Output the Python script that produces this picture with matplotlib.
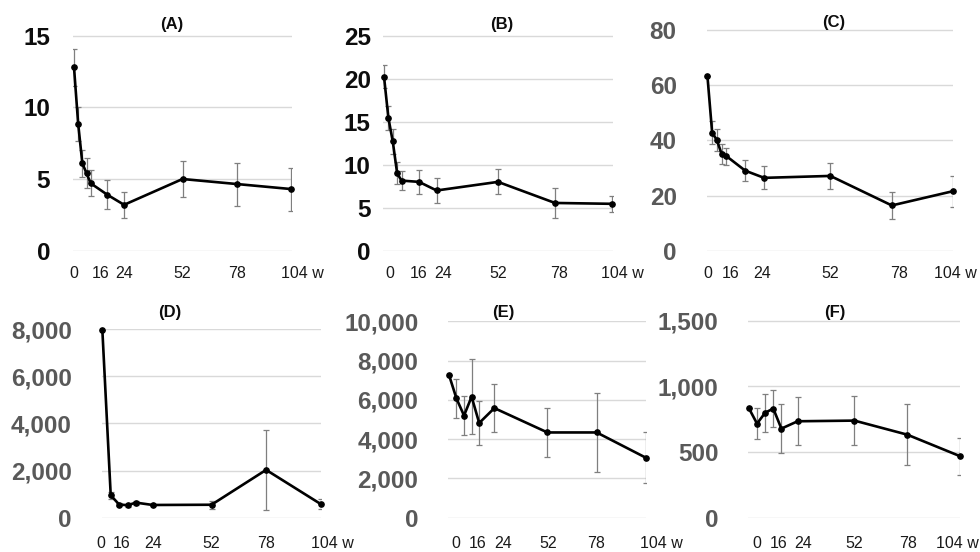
import matplotlib
matplotlib.use("Agg")
import matplotlib.pyplot as plt
from matplotlib.ticker import FuncFormatter
import matplotlib.transforms as mtransforms

plt.rcParams['font.family'] = ['Liberation Sans', 'DejaVu Sans']

# ---------------- data ----------------
weeks_abc = [0, 2, 4, 6, 8, 16, 24, 52, 78, 104]
weeks_def = [0, 4, 8, 12, 16, 24, 52, 78, 104]

a_mean = [12.8, 8.85, 6.1, 5.4, 4.7, 3.9, 3.2, 5.0, 4.65, 4.3]
a_err = [1.3, 1.2, 0.95, 1.05, 0.9, 1.0, 0.9, 1.25, 1.5, 1.5]

b_mean = [20.25, 15.45, 12.7, 9.0, 8.15, 8.0, 7.0, 8.0, 5.55, 5.45]
b_err = [1.3, 1.4, 1.5, 1.3, 1.1, 1.4, 1.5, 1.45, 1.7, 0.95]

c_mean = [63.4, 42.8, 40.1, 35.1, 34.3, 29.0, 26.4, 27.1, 16.4, 21.6]
c_err = [0, 4.2, 4.0, 3.7, 3.1, 3.8, 4.2, 4.8, 5.0, 5.6]

d_mean = [7986, 950, 560, 530, 640, 540, 550, 2030, 580]
d_err = [0, 140, 60, 60, 80, 60, 175, 1710, 200]

e_mean = [7290, 6070, 5200, 6160, 4820, 5580, 4340, 4340, 3050]
e_err = [0, 990, 990, 1900, 1140, 1235, 1250, 1990, 1290]

f_mean = [834, 717, 800, 832, 679, 735, 740, 633, 469]
f_err = [0, 117, 146, 140, 189, 182, 187, 234, 140]

tick_weeks = [0, 16, 24, 52, 78, 104]
tick_labels = ['0', '16', '24', '52', '78', '104 w']

panels = [
    dict(title='(A)', x=weeks_abc, y=a_mean, e=a_err, yticks=[0, 5, 10, 15]),
    dict(title='(B)', x=weeks_abc, y=b_mean, e=b_err, yticks=[0, 5, 10, 15, 20, 25]),
    dict(title='(C)', x=weeks_abc, y=c_mean, e=c_err, yticks=[0, 20, 40, 60, 80]),
    dict(title='(D)', x=weeks_def, y=d_mean, e=d_err, yticks=[0, 2000, 4000, 6000, 8000]),
    dict(title='(E)', x=weeks_def, y=e_mean, e=e_err, yticks=[0, 2000, 4000, 6000, 8000, 10000]),
    dict(title='(F)', x=weeks_def, y=f_mean, e=f_err, yticks=[0, 500, 1000, 1500]),
]

# ---------------- layout (pixels) ----------------
W, H = 980, 552
layout = [
    # left, right, top, bottom, xlim, ytick pad(px), ytick color, xlab pad(px), title x, title y
    (72.7, 291.7, 35.0, 250.7, (-0.62, 104.3), 22.7, '#0d0d0d', 15, 172, 24),
    (382.7, 613.3, 35.0, 250.7, (-0.59, 104.6), 12.0, '#0d0d0d', 15, 502, 24),
    (706.7, 953.3, 29.3, 250.7, (-0.3, 104.0), 30.0, '#595959', 15, 834, 23),
    (101.7, 320.7, 328.7, 517.7, (-0.3, 104.0), 30.0, '#595959', 18, 170, 313),
    (448.3, 646.0, 320.7, 517.7, (-0.3, 104.0), 30.0, '#595959', 18, 503, 313),
    (748.3, 960.0, 320.3, 517.7, (-0.3, 104.0), 30.0, '#595959', 18, 835, 313),
]
# horizontal pixel nudges of the x tick labels (label row was placed by hand)
xlabel_nudge = [
    [0, -7, 0, 0, 0, 2],
    [6, 0, 7, 0, 4, 1],
    [0, -15, -2, 0, 7, -7],
    [-2, -14, 0, 0, 0, 3],
    [7, -2, 9, 1, -1, 6],
    [8, -3, 6, 0, 1, -12],
]
W_HALF = 9  # half-width of " w" so that "104" is centred on its tick

fig = plt.figure(figsize=(W / 100, H / 100), dpi=100)
fmt = FuncFormatter(lambda v, p: f'{int(v):,}')

for p, (l, r, t, b, xl, ypad, ycol, xpad, tx, ty), nud in zip(panels, layout, xlabel_nudge):
    ax = fig.add_axes([l / W, 1 - b / H, (r - l) / W, (b - t) / H])
    ax.set_xlim(*xl)
    top = p['yticks'][-1]
    ax.set_ylim(0, top * 1.003)
    ax.set_yticks(p['yticks'])
    ax.yaxis.set_major_formatter(fmt)
    ax.set_xticks(tick_weeks)
    ax.set_xticklabels(tick_labels)
    for s in ax.spines.values():
        s.set_visible(False)
    ax.grid(axis='y', color='#d9d9d9', lw=1.0)
    ax.set_axisbelow(True)
    ax.tick_params(axis='y', length=0, pad=ypad * 0.72, labelsize=17.5, labelcolor=ycol)
    ax.tick_params(axis='x', length=0, pad=xpad * 0.72, labelsize=11.5, labelcolor='#1a1a1a')
    for lab in ax.get_yticklabels():
        lab.set_fontweight('bold')
    labs = ax.get_xticklabels()
    for i, lab in enumerate(labs):
        dx = nud[i] + (W_HALF if i == len(labs) - 1 else 0)
        lab.set_transform(lab.get_transform() +
                          mtransforms.ScaledTranslation(dx / 100, 0, fig.dpi_scale_trans))

    ax.errorbar(p['x'], p['y'], yerr=p['e'], fmt='none', ecolor='#7f7f7f',
                elinewidth=0.9, capsize=2.2, capthick=0.9, zorder=2)
    ax.plot(p['x'], p['y'], color='black', lw=1.9, marker='o', ms=3.8, zorder=3,
            clip_on=False)

    fig.text(tx / W, 1 - ty / H, p['title'], ha='center', va='center',
             fontsize=12, fontweight='bold', color='#0d0d0d')

fig.savefig('out.png', dpi=100)
